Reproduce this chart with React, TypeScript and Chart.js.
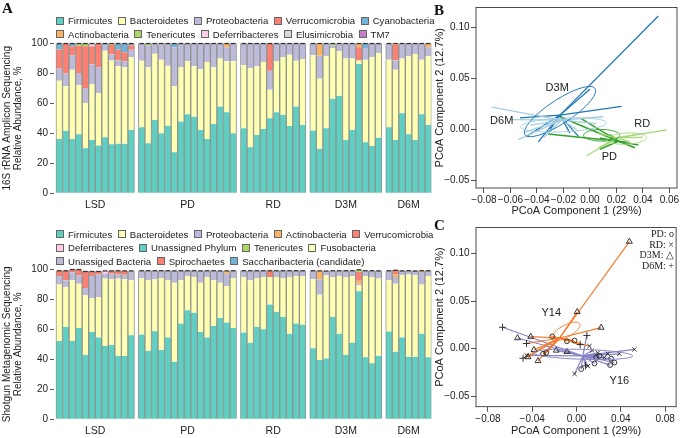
import React, { useEffect, useRef } from 'react';
import { Chart, registerables } from 'chart.js';

Chart.register(...registerables);

const SANS = "'Liberation Sans', Arial, Helvetica, sans-serif";
const SERIF = "'Liberation Serif', 'Times New Roman', serif";
const INK = '#222222';
const BAR_EDGE = '#8e948f';

Chart.defaults.font.family = SANS;
Chart.defaults.color = INK;

// ---------------- Panel A : groups ----------------
const groupNames = ['LSD', 'PD', 'RD', 'D3M', 'D6M'];
const groupSizes = [12, 15, 10, 11, 7];
const yTicksA = [0, 20, 40, 60, 80, 100];

// ---------------- Panel A (top) : 16S rRNA amplicon ----------------
const ampFirmicutes = [
  36.2, 41.6, 36.2, 39.3, 30.0, 35.6, 31.8, 37.3, 32.7, 33.1, 33.1, 42.2,
  44.0, 33.3, 48.9, 40.0, 45.1, 27.3, 47.8, 52.7, 51.1, 42.2, 36.2, 46.2, 57.8, 54.0, 40.0,
  43.3, 30.7, 38.9, 42.9, 50.0, 54.0, 52.2, 44.9, 57.8, 45.6,
  41.8, 29.6, 43.3, 63.0, 65.0, 35.6, 42.2, 86.2, 34.0, 31.6, 37.1,
  44.0, 35.6, 53.3, 39.3, 35.6, 52.7, 45.6,
];
const ampBacteroidetes = [
  38.9, 29.7, 46.2, 32.7, 30.2, 37.3, 35.1, 57.8, 55.8, 51.6, 51.0, 48.5,
  44.4, 50.7, 44.2, 49.1, 40.0, 44.0, 36.2, 35.3, 33.6, 40.7, 51.4, 37.8, 32.0, 34.0, 48.0,
  42.0, 52.9, 45.8, 44.7, 19.1, 34.0, 38.5, 47.5, 30.6, 44.0,
  50.2, 46.8, 48.0, 33.9, 29.7, 54.2, 47.6, 2.3, 55.1, 59.1, 56.5,
  45.1, 46.8, 36.5, 52.0, 57.3, 36.4, 45.7,
];
const ampProteobacteria = [
  8.0, 8.5, 9.6, 8.2, 10.0, 12.9, 17.1, 3.6, 4.0, 4.0, 4.0, 5.0,
  11.6, 14.6, 6.9, 10.3, 14.9, 26.0, 16.0, 12.0, 15.3, 17.1, 12.4, 16.0, 10.2, 9.3, 12.0,
  14.7, 16.4, 15.3, 12.4, 12.6, 12.0, 9.3, 7.6, 11.6, 10.4,
  8.0, 15.3, 8.7, 1.8, 5.3, 10.2, 10.2, 0, 7.8, 9.3, 6.4,
  10.9, 6.2, 10.2, 8.7, 7.1, 10.9, 6.0,
];
const ampVerrucomicrobia = [
  12.7, 20.2, 6.0, 18.2, 27.8, 12.2, 16.0, 0, 6.5, 7.0, 6.0, 3.0,
  0, 0, 0, 0, 0, 0, 0, 0, 0, 0, 0, 0, 0, 0, 0,
  0, 0, 0, 0, 18.3, 0, 0, 0, 0, 0,
  0, 0, 0, 0, 0, 0, 0, 8.8, 0, 0, 0,
  0, 10.4, 0, 0, 0, 0, 0,
];
const ampCyanobacteria = [
  4.2, 0, 2.0, 0, 0, 0, 0, 1.3, 0, 4.3, 5.9, 1.3,
  0, 0, 0, 0, 0, 2.7, 0, 0, 0, 0, 0, 0, 0, 0, 0,
  0, 0, 0, 0, 0, 0, 0, 0, 0, 0,
  0, 0, 0, 0, 0, 0, 0, 0, 3.1, 0, 0,
  0, 0, 0, 0, 0, 0, 0,
];
const ampActinobacteria = [
  0, 0, 0, 0, 0, 0, 0, 0, 0, 0, 0, 0,
  0, 0, 0, 0, 0, 0, 0, 0, 0, 0, 0, 0, 0, 2.7, 0,
  0, 0, 0, 0, 0, 0, 0, 0, 0, 0,
  0, 8.3, 0, 0, 0, 0, 0, 2.7, 0, 0, 0,
  0, 1.0, 0, 0, 0, 0, 2.7,
];
const ampTenericutes = [
  0, 0, 0, 1.6, 2.0, 0, 0, 0, 1.0, 0, 0, 0,
  0, 1.4, 0, 0.6, 0, 0, 0, 0, 0, 0, 0, 0, 0, 0, 0,
  0, 0, 0, 0, 0, 0, 0, 0, 0, 0,
  0, 0, 0, 1.3, 0, 0, 0, 0, 0, 0, 0,
  0, 0, 0, 0, 0, 0, 0,
];
const ampDeferribacteres = [
  0, 0, 0, 0, 0, 0.8, 0, 0, 0, 0, 0, 0,
  0, 0, 0, 0, 0, 0, 0, 0, 0, 0, 0, 0, 0, 0, 0,
  0, 0, 0, 0, 0, 0, 0, 0, 0, 0,
  0, 0, 0, 0, 0, 0, 0, 0, 0, 0, 0,
  0, 0, 0, 0, 0, 0, 0,
];
const ampElusimicrobia = [
  0, 0, 0, 0, 0, 1.2, 0, 0, 0, 0, 0, 0,
  0, 0, 0, 0, 0, 0, 0, 0, 0, 0, 0, 0, 0, 0, 0,
  0, 0, 0, 0, 0, 0, 0, 0, 0, 0,
  0, 0, 0, 0, 0, 0, 0, 0, 0, 0, 0,
  0, 0, 0, 0, 0, 0, 0,
];

// ---------------- Panel A (bottom) : shotgun metagenomics ----------------
const sgFirmicutes = [
  52.2, 61.6, 52.2, 60.9, 42.8, 58.2, 54.6, 48.8, 49.5, 42.2, 42.2, 56.0,
  56.5, 45.7, 58.7, 46.2, 54.6, 38.4, 63.8, 72.7, 71.1, 58.2, 54.6, 62.2, 67.6, 64.5, 60.9,
  57.8, 51.1, 61.6, 60.0, 76.5, 71.6, 68.2, 57.1, 63.8, 63.1,
  47.3, 39.5, 40.6, 68.2, 57.1, 42.8, 51.1, 85.3, 41.3, 37.3, 42.4,
  58.5, 45.1, 54.6, 41.7, 41.7, 57.0, 41.3,
];
const sgBacteroidetes = [
  37.6, 26.6, 40.5, 29.5, 39.9, 22.7, 27.0, 45.0, 43.8, 51.6, 51.1, 36.7,
  37.7, 47.0, 34.6, 48.0, 38.1, 52.7, 28.9, 22.9, 23.8, 32.9, 40.3, 30.5, 23.5, 24.4, 33.3,
  37.1, 41.6, 32.6, 34.9, 18.4, 23.3, 26.0, 37.8, 31.8, 32.5,
  46.0, 43.6, 55.4, 26.7, 38.5, 52.1, 44.5, 4.0, 54.3, 57.6, 51.4,
  34.2, 45.3, 41.4, 54.8, 54.3, 32.8, 54.3,
];
const sgProteobacteria = [
  5.8, 4.5, 5.3, 5.4, 4.9, 14.7, 14.9, 3.3, 3.8, 2.7, 3.1, 6.4,
  5.0, 6.5, 5.9, 5.0, 6.5, 8.0, 6.5, 3.6, 4.3, 8.0, 4.3, 6.5, 8.0, 8.2, 5.0,
  4.3, 6.5, 5.0, 4.3, 0, 4.3, 5.0, 4.3, 3.6, 3.6,
  5.9, 10.2, 3.0, 4.3, 3.6, 4.3, 3.6, 1.0, 3.6, 4.3, 5.3,
  6.5, 4.4, 3.1, 2.7, 3.0, 8.4, 3.6,
];
const sgActinobacteria = [
  0, 0, 0, 0, 0, 0, 0, 0, 0, 0, 0, 0,
  0, 0, 0, 0, 0, 0, 0, 0, 0, 0, 0, 0, 0, 2.0, 0,
  0, 0, 0, 0, 0, 0, 0, 0, 0, 0,
  0, 5.8, 0, 0, 0, 0, 0, 2.0, 0, 0, 0,
  0, 1.8, 0, 0, 0, 1.0, 0,
];
const sgVerrucomicrobia = [
  0, 0, 0, 0, 0, 0, 0, 0, 0, 0, 0, 0,
  0, 0, 0, 0, 0, 0, 0, 0, 0, 0, 0, 0, 0, 0, 0,
  0, 0, 0, 0, 4.3, 0, 0, 0, 0, 0,
  0, 0, 0, 0, 0, 0, 0, 6.0, 0, 0, 0,
  0, 2.9, 0, 0, 0, 0, 0,
];
const sgDeferribacteres = [
  0, 0, 0, 0, 0, 0, 0, 2.0, 0, 0, 0, 0,
  0, 0, 0, 0, 0, 0, 0, 0, 0, 0, 0, 0, 0, 0, 0,
  0, 0, 0, 0, 0, 0, 0, 0, 0, 0,
  0, 0, 0, 0, 0, 0, 0, 0, 0, 0, 0,
  0, 0, 0, 0, 0, 0, 0,
];
const sgTenericutes = [
  0, 0, 0, 0, 0, 0, 0, 0, 0, 0, 0, 0,
  0, 0, 0, 0, 0, 0, 0, 0, 0, 0, 0, 0, 0, 0, 0,
  0, 0, 0, 0, 0, 0, 0, 0, 0, 0,
  0, 0, 0, 0, 0, 0, 0, 1.5, 0, 0, 0,
  0, 0, 0, 0, 0, 0, 0,
];
const sgSpirochaetes = [
  3.6, 6.5, 2.0, 4.2, 11.1, 3.1, 2.2, 0, 2.0, 2.7, 2.7, 0,
  0, 0, 0, 0, 0, 0, 0, 0, 0, 0, 0, 0, 0, 0, 0,
  0, 0, 0, 0, 0, 0, 0, 0, 0, 0,
  0, 0, 0, 0, 0, 0, 0, 0, 0, 0, 0,
  0, 0, 0, 0, 0, 0, 0,
];

// ---------------- colours & legends ----------------
const TEAL = '#5ecfc2';
const YELLOW = '#ffffb3';
const LAVENDER = '#bebada';
const SALMON = '#fb8072';
const BLUE = '#74b3d8';
const ORANGE = '#fdb462';
const GREEN = '#a8d860';
const PINK = '#fccde5';
const GRAY = '#d9d9d9';
const PURPLE = '#c77cc7';

const ampLegendRows = [
  ['Firmicutes', 'Bacteroidetes', 'Proteobacteria', 'Verrucomicrobia', 'Cyanobacteria'],
  ['Actinobacteria', 'Tenericutes', 'Deferribacteres', 'Elusimicrobia', 'TM7'],
];
const ampColors: any = {
  Firmicutes: TEAL, Bacteroidetes: YELLOW, Proteobacteria: LAVENDER, Verrucomicrobia: SALMON,
  Cyanobacteria: BLUE, Actinobacteria: ORANGE, Tenericutes: GREEN, Deferribacteres: PINK,
  Elusimicrobia: GRAY, TM7: PURPLE,
};
const sgLegendRows = [
  ['Firmicutes', 'Bacteroidetes', 'Proteobacteria', 'Actinobacteria', 'Verrucomicrobia'],
  ['Deferribacteres', 'Unassigned Phylum', 'Tenericutes', 'Fusobacteria'],
  ['Unassiged Bacteria', 'Spirochaetes', 'Saccharibacteria (candidate)'],
];
const sgColors: any = {
  Firmicutes: TEAL, Bacteroidetes: YELLOW, Proteobacteria: LAVENDER, Actinobacteria: ORANGE,
  Verrucomicrobia: SALMON, Deferribacteres: PINK, 'Unassigned Phylum': TEAL, Tenericutes: GREEN,
  Fusobacteria: YELLOW, 'Unassiged Bacteria': LAVENDER, Spirochaetes: SALMON,
  'Saccharibacteria (candidate)': BLUE,
};

const ampSeries = [
  { name: 'Firmicutes', data: ampFirmicutes },
  { name: 'Bacteroidetes', data: ampBacteroidetes },
  { name: 'Proteobacteria', data: ampProteobacteria },
  { name: 'Verrucomicrobia', data: ampVerrucomicrobia },
  { name: 'Cyanobacteria', data: ampCyanobacteria },
  { name: 'Actinobacteria', data: ampActinobacteria },
  { name: 'Tenericutes', data: ampTenericutes },
  { name: 'Deferribacteres', data: ampDeferribacteres },
  { name: 'Elusimicrobia', data: ampElusimicrobia },
];
const sgSeries = [
  { name: 'Firmicutes', data: sgFirmicutes },
  { name: 'Bacteroidetes', data: sgBacteroidetes },
  { name: 'Proteobacteria', data: sgProteobacteria },
  { name: 'Actinobacteria', data: sgActinobacteria },
  { name: 'Verrucomicrobia', data: sgVerrucomicrobia },
  { name: 'Deferribacteres', data: sgDeferribacteres },
  { name: 'Tenericutes', data: sgTenericutes },
  { name: 'Spirochaetes', data: sgSpirochaetes },
];

// ---------------- Panel B : PCoA by time point ----------------
const bXTicks = [-0.08, -0.06, -0.04, -0.02, 0, 0.02, 0.04, 0.06];
const bYTicks = [-0.05, 0, 0.05, 0.1];
const d3mHub = [-0.0226, 0.0139];
const d3mX = [0.0516, 0.0239, 0.0, -0.0528, -0.0478, -0.039, -0.0088, -0.0151, -0.03];
const d3mY = [0.1111, 0.0225, 0.0394, 0.0113, -0.0069, -0.0123, -0.0069, -0.0037, 0.0];
const d6mHub = [-0.0214, 0.0091];
const d6mX = [-0.0742, 0.01, -0.0541, -0.05, -0.045, -0.01, 0.005, -0.035, -0.06];
const d6mY = [0.0218, 0.0123, -0.0101, -0.003, 0.004, 0.0, 0.0055, -0.008, 0.0095];
const pdHub = [0.0214, -0.0117];
const pdX = [-0.0226, -0.0075, -0.0315, 0.0075, 0.0365, 0.034, 0.0075, 0.028, 0.015];
const pdY = [0.0123, 0.0113, -0.0047, -0.0085, -0.0155, -0.0181, -0.0196, -0.013, -0.005];
const rdHub = [0.0201, -0.0085];
const rdX = [0.0579, -0.0025, 0.0063, 0.0352, 0.005, 0.03, 0.04, 0.012];
const rdY = [-0.0005, -0.026, -0.0181, -0.0053, -0.0037, -0.012, -0.008, -0.015];
const bLabelText = ['D3M', 'D6M', 'RD', 'PD'];
const bLabelX = [-0.0247, -0.0666, 0.0395, 0.0146];
const bLabelY = [0.041, 0.0081, 0.0049, -0.027];

// ---------------- Panel C : PCoA by subject ----------------
const cXTicks = [-0.08, -0.04, 0, 0.04, 0.08];
const cYTicks = [-0.05, 0, 0.05, 0.1];
const y14Hub = [-0.0153, 0.0113];
const y14X = [0.0477, 0.0006, 0.0222, -0.0414, -0.0219, -0.0018, 0.0033, -0.0452, -0.0384, -0.0303, -0.0273, -0.0483, -0.0438, -0.0348, -0.0087, 0.0117];
const y14Y = [0.1128, 0.0388, 0.0223, 0.0127, 0.013, 0.0086, 0.0044, 0.0055, -0.0011, -0.0053, -0.0042, -0.01, -0.0087, -0.0128, 0.0078, 0.0027];
const y14T = ['D3M', 'D3M', 'D3M', 'D3M', 'PD', 'PD', 'D6M', 'D6M', 'D3M', 'PD', 'PD', 'D6M', 'D3M', 'D3M', 'PD', 'RD'];
const y16Hub = [0.0057, -0.0076];
const y16X = [-0.0668, -0.0533, -0.0452, -0.0183, -0.0087, 0.0093, 0.0141, 0.0192, 0.0282, 0.0387, 0.0522, 0.0312, 0.0342, 0.0303, 0.0162, 0.0102, 0.0081, 0.0042, -0.0018, 0.0207, 0.0252, 0.0177];
const y16Y = [0.0226, 0.0113, -0.0069, -0.0018, -0.0032, 0.014, -0.0018, -0.0042, -0.0053, -0.0053, -0.0007, -0.0104, -0.0145, -0.0172, -0.0156, -0.0183, -0.018, -0.0214, -0.0265, -0.0076, -0.0093, -0.0093];
const y16T = ['D6M', 'D3M', 'RD', 'D3M', 'D3M', 'D6M', 'RD', 'RD', 'RD', 'RD', 'RD', 'PD', 'PD', 'PD', 'PD', 'RD', 'D6M', 'PD', 'RD', 'PD', 'RD', 'PD'];
const cLabelText = ['Y14', 'Y16'];
const cLabelX = [-0.0228, 0.0387];
const cLabelY = [0.0381, -0.0334];
const markerLegend = ['PD: o', 'RD: \u00d7', 'D3M: \u25b3', 'D6M: +'];

// ---------------- helpers ----------------
const fmtTick = (v: number) => (v < -1e-9 ? '\u2212' : '') + Math.abs(v).toFixed(2);

const topEdgePlugin = {
  id: 'topEdge',
  afterDatasetsDraw(chart: any) {
    const tops = new Map();
    chart.getSortedVisibleDatasetMetas().forEach((meta: any) => {
      meta.data.forEach((el: any) => {
        const key = Math.round(el.x * 10);
        const prev = tops.get(key);
        if (!prev || el.y < prev.y) tops.set(key, { x: el.x, y: el.y, w: el.width });
      });
    });
    const ctx = chart.ctx;
    ctx.save();
    ctx.fillStyle = '#333';
    tops.forEach((t: any) => ctx.fillRect(t.x - t.w / 2 + 1, t.y - 0.4, t.w - 2, 1.3));
    ctx.restore();
  },
};

const boxPlugin = {
  id: 'box',
  afterDraw(chart: any) {
    const { ctx, chartArea: a } = chart;
    ctx.save();
    ctx.strokeStyle = INK;
    ctx.lineWidth = 0.8;
    ctx.strokeRect(a.left, a.top, a.right - a.left, a.bottom - a.top);
    ctx.restore();
  },
};

function ellipsePlugin(items: any[]) {
  return {
    id: 'ellipses',
    afterDatasetsDraw(chart: any) {
      const xs = chart.scales.x, ys = chart.scales.y, ctx = chart.ctx;
      ctx.save();
      items.forEach((e) => {
        const cx = xs.getPixelForValue(e.c[0]), cy = ys.getPixelForValue(e.c[1]);
        const ax = xs.getPixelForValue(e.c[0] + e.a[0]) - cx, ay = ys.getPixelForValue(e.c[1] + e.a[1]) - cy;
        const bx = xs.getPixelForValue(e.c[0] + e.b[0]) - cx, by = ys.getPixelForValue(e.c[1] + e.b[1]) - cy;
        ctx.beginPath();
        for (let k = 0; k <= 96; k++) {
          const t = (k / 96) * Math.PI * 2;
          const px = cx + ax * Math.cos(t) + bx * Math.sin(t);
          const py = cy + ay * Math.cos(t) + by * Math.sin(t);
          if (k === 0) ctx.moveTo(px, py); else ctx.lineTo(px, py);
        }
        ctx.strokeStyle = e.color;
        ctx.lineWidth = 1;
        ctx.stroke();
      });
      ctx.restore();
    },
  };
}

function textPlugin(texts: string[], xs: number[], ys: number[]) {
  return {
    id: 'texts',
    afterDraw(chart: any) {
      const { ctx, scales } = chart;
      ctx.save();
      ctx.font = `11px ${SANS}`;
      ctx.fillStyle = INK;
      ctx.textAlign = 'center';
      ctx.textBaseline = 'middle';
      texts.forEach((t, i) => ctx.fillText(t, scales.x.getPixelForValue(xs[i]), scales.y.getPixelForValue(ys[i])));
      ctx.restore();
    },
  };
}

function spokes(hub: number[], xs: number[], ys: number[], color: string, width: number) {
  return xs.map((x, i) => ({
    data: [{ x: hub[0], y: hub[1] }, { x, y: ys[i] }],
    showLine: true,
    borderColor: color,
    borderWidth: width,
    pointRadius: 0,
    pointHoverRadius: 0,
    fill: false,
  }));
}

function scatterOptions(o: any) {
  return {
    animation: false,
    responsive: false,
    maintainAspectRatio: false,
    events: [],
    layout: { padding: { top: o.padTop, right: 4, bottom: 0, left: 0 } },
    plugins: { legend: { display: false }, tooltip: { enabled: false } },
    scales: {
      x: {
        type: 'linear', min: o.xMin, max: o.xMax,
        afterBuildTicks: (ax: any) => { ax.ticks = o.xTicks.map((v: number) => ({ value: v })); },
        afterFit: (s: any) => { s.height = o.xAxisH; },
        grid: { drawOnChartArea: false, drawTicks: true, tickLength: 5, color: INK, tickWidth: 0.8 },
        border: { display: false },
        ticks: { callback: (v: any) => fmtTick(v), font: { family: SANS, size: 10 }, color: INK, padding: 1.5, maxRotation: 0, autoSkip: false },
        title: { display: true, text: 'PCoA Component 1 (29%)', font: { family: SANS, size: 11 }, color: INK, padding: { top: 0, bottom: o.xTitlePad } },
      },
      y: {
        type: 'linear', min: o.yMin, max: o.yMax,
        afterBuildTicks: (ax: any) => { ax.ticks = o.yTicks.map((v: number) => ({ value: v })); },
        afterFit: (s: any) => { s.width = 46; },
        grid: { drawOnChartArea: false, drawTicks: true, tickLength: 5, color: INK, tickWidth: 0.8 },
        border: { display: false },
        ticks: { callback: (v: any) => fmtTick(v), font: { family: SANS, size: 10 }, color: INK, padding: 1.5, autoSkip: false },
        title: { display: true, text: 'PCoA Component 2 (12.7%)', font: { family: SANS, size: 11 }, color: INK, padding: { top: 3.5, bottom: 0 } },
      },
    },
  };
}

// ---------------- components ----------------
function BarPanel({ series, colors, titleLines, top }: any) {
  const ref = useRef<HTMLCanvasElement>(null);
  useEffect(() => {
    const GAP = 0.6;
    const barX: number[] = [];
    const centers: number[] = [];
    let i = 0;
    groupSizes.forEach((n, g) => {
      const start = i + g * GAP;
      for (let k = 0; k < n; k++) { barX.push(i + g * GAP); i++; }
      centers.push(start + (n - 1) / 2);
    });
    const chart = new Chart(ref.current as any, {
      type: 'bar',
      data: {
        datasets: series.map((s: any) => ({
          label: s.name,
          data: s.data.map((v: number, j: number) => ({ x: barX[j], y: v })).filter((p: any) => p.y > 0),
          backgroundColor: colors[s.name],
          borderColor: BAR_EDGE,
          borderWidth: { left: 1, right: 1, top: 0, bottom: 0 },
          borderSkipped: false,
          grouped: false,
          barPercentage: 1,
          categoryPercentage: 1,
        })),
      },
      options: {
        animation: false,
        responsive: false,
        maintainAspectRatio: false,
        events: [],
        layout: { padding: { top: 43.3, right: 8.5, bottom: 0, left: 0 } },
        plugins: { legend: { display: false }, tooltip: { enabled: false } },
        scales: {
          x: {
            type: 'linear', offset: false, min: -0.8, max: 56.9,
            grid: { display: false, drawTicks: false }, border: { display: false },
            afterBuildTicks: (ax: any) => { ax.ticks = centers.map((v) => ({ value: v })); },
            afterFit: (s: any) => { s.height = 21.7; },
            ticks: { callback: (_v: any, idx: number) => groupNames[idx], font: { family: SANS, size: 10.5 }, color: INK, padding: 6, maxRotation: 0, autoSkip: false },
          },
          y: {
            stacked: true, min: 0, max: 100,
            afterBuildTicks: (ax: any) => { ax.ticks = yTicksA.map((v) => ({ value: v })); },
            afterFit: (s: any) => { s.width = 54; },
            grid: { drawOnChartArea: false, drawTicks: true, tickLength: 4, color: '#333', tickWidth: 0.8 },
            border: { display: false },
            ticks: { font: { family: SANS, size: 10 }, color: INK, padding: 2 },
            title: { display: true, text: titleLines, font: { family: SANS, size: 10, lineHeight: 1.1 }, color: INK, padding: { top: 2, bottom: 0 } },
          },
        },
      } as any,
      plugins: [topEdgePlugin],
    });
    return () => chart.destroy();
  }, []);
  return <canvas ref={ref} width={440} height={215} style={{ position: 'absolute', left: 0, top, width: 440, height: 215 }} />;
}

function PanelB() {
  const ref = useRef<HTMLCanvasElement>(null);
  useEffect(() => {
    const datasets = [
      ...spokes(d6mHub, d6mX, d6mY, '#a6cee3', 1.3),
      ...spokes(rdHub, rdX, rdY, '#a5d87a', 1.3),
      ...spokes(pdHub, pdX, pdY, '#33a02c', 1.5),
      ...spokes(d3mHub, d3mX, d3mY, '#1f78b4', 1.3),
    ];
    const ellipses = [
      { c: [-0.0226, 0.0174], a: [0.0264, 0.0227], b: [0.0051, -0.0095], color: '#1f78b4' },
      { c: [-0.0201, 0.0043], a: [0.0325, 0.002], b: [0, 0.0067], color: '#a6cee3' },
      { c: [0.0088, -0.0059], a: [0.0136, 0], b: [0, 0.0057], color: '#33a02c' },
      { c: [0.0277, -0.0091], a: [0.0151, 0.001], b: [0, 0.0055], color: '#a5d87a' },
    ];
    const chart = new Chart(ref.current as any, {
      type: 'scatter',
      data: { datasets } as any,
      options: scatterOptions({ padTop: 3, xMin: -0.086, xMax: 0.0657, yMin: -0.0576, yMax: 0.1195, xTicks: bXTicks, yTicks: bYTicks, xAxisH: 32, xTitlePad: 2 }) as any,
      plugins: [ellipsePlugin(ellipses), textPlugin(bLabelText, bLabelX, bLabelY), boxPlugin],
    });
    return () => chart.destroy();
  }, []);
  return <canvas ref={ref} width={251} height={220} style={{ position: 'absolute', left: 430, top: 0, width: 251, height: 220 }} />;
}

function PanelC() {
  const ref = useRef<HTMLCanvasElement>(null);
  useEffect(() => {
    const styles: any = {
      PD: { pointStyle: 'circle', r: 2.4 },
      RD: { pointStyle: 'crossRot', r: 3 },
      D3M: { pointStyle: 'triangle', r: 3.4 },
      D6M: { pointStyle: 'cross', r: 3.6 },
    };
    const markerSets = Object.keys(styles).map((t) => {
      const pts: any[] = [];
      y14T.forEach((tt, i) => { if (tt === t) pts.push({ x: y14X[i], y: y14Y[i] }); });
      y16T.forEach((tt, i) => { if (tt === t) pts.push({ x: y16X[i], y: y16Y[i] }); });
      return {
        data: pts,
        showLine: false,
        pointStyle: styles[t].pointStyle,
        pointRadius: styles[t].r,
        pointBorderColor: INK,
        pointBackgroundColor: 'rgba(0,0,0,0)',
        pointBorderWidth: 0.9,
      };
    });
    const datasets = [
      ...markerSets,
      ...spokes(y14Hub, y14X, y14Y, '#f47a2a', 1.2),
      ...spokes(y16Hub, y16X, y16Y, '#8784c6', 1.2),
    ];
    const ellipses = [
      { c: [-0.0099, 0.0182], a: [0.0128, 0.0081], b: [0.0026, -0.0055], color: '#f47a2a' },
      { c: [0.0057, -0.0059], a: [0.045, -0.0017], b: [0, 0.0052], color: '#8784c6' },
    ];
    const chart = new Chart(ref.current as any, {
      type: 'scatter',
      data: { datasets } as any,
      options: scatterOptions({ padTop: 4, xMin: -0.0908, xMax: 0.0899, yMin: -0.061, yMax: 0.1276, xTicks: cXTicks, yTicks: cYTicks, xAxisH: 31.3, xTitlePad: 0 }) as any,
      plugins: [ellipsePlugin(ellipses), textPlugin(cLabelText, cLabelX, cLabelY), boxPlugin],
    });
    return () => chart.destroy();
  }, []);
  return <canvas ref={ref} width={251} height={218} style={{ position: 'absolute', left: 430, top: 220, width: 251, height: 218 }} />;
}

function LegendRows({ rows, colors, top }: any) {
  return (
    <>
      {rows.map((row: string[], r: number) => (
        <div key={r} style={{ position: 'absolute', left: 56, top: top + r * 13.5, height: 12, display: 'flex', alignItems: 'center', whiteSpace: 'nowrap', font: `9.6px ${SANS}`, color: INK, zIndex: 2 }}>
          {row.map((name) => (
            <span key={name} style={{ display: 'flex', alignItems: 'center', marginRight: 5.5 }}>
              <span style={{ display: 'inline-block', width: 8, height: 8, boxSizing: 'border-box', background: colors[name], border: '0.8px solid #666', marginRight: 4 }} />
              <span>{name}</span>
            </span>
          ))}
        </div>
      ))}
    </>
  );
}

const panelLetter = (text: string, left: number, top: number) => (
  <div style={{ position: 'absolute', left, top, font: `bold 15px ${SERIF}`, color: '#111', lineHeight: '15px', zIndex: 2 }}>{text}</div>
);

export default function App() {
  return (
    <div style={{ position: 'absolute', left: 0, top: 0, width: 681, height: 438, background: '#fff', overflow: 'hidden' }}>
      <BarPanel series={ampSeries} colors={ampColors} titleLines={['16S rRNA Amplicon Sequencing', 'Relative Abundance, %']} top={0} />
      <BarPanel series={sgSeries} colors={sgColors} titleLines={['Shotgun Metagenomic Sequencing', 'Relative Abundance, %']} top={226} />
      <PanelB />
      <PanelC />
      <LegendRows rows={ampLegendRows} colors={ampColors} top={14.5} />
      <LegendRows rows={sgLegendRows} colors={sgColors} top={228} />
      {panelLetter('A', 2, 1)}
      {panelLetter('B', 434, 3)}
      {panelLetter('C', 434, 218)}
      <div style={{ position: 'absolute', right: 7, top: 229, font: `10px ${SERIF}`, color: INK, textAlign: 'right', lineHeight: '10.7px', zIndex: 2 }}>
        {markerLegend.map((t) => <div key={t}>{t}</div>)}
      </div>
    </div>
  );
}
